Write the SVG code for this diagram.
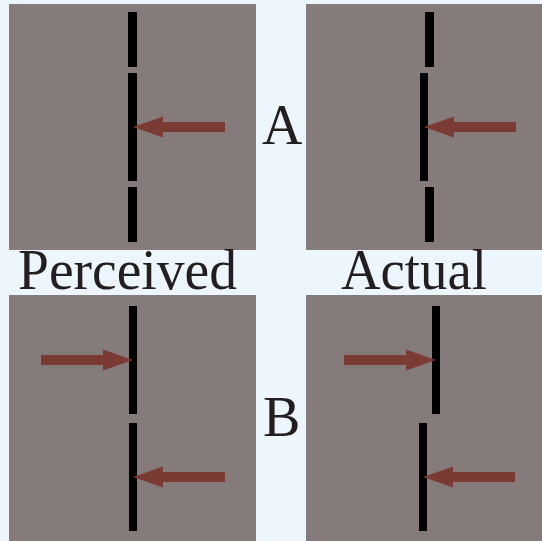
<svg xmlns="http://www.w3.org/2000/svg" width="542" height="541" viewBox="0 0 542 541">
<style>
.panel{fill:#857b7b}
.bar{fill:#000}
.arrow{fill:#7b3b35}
.lbl{font-family:"Liberation Serif","Times New Roman",serif;font-size:56px;fill:#231f20}
</style>
<defs>
<polygon id="arrowL" class="arrow" points="0,0 30,-10.5 30,-5 92,-5 92,5 30,5 30,10.5"/>
</defs>
<rect width="542" height="541" fill="#eef6fd"/>
<g id="panel-a-perceived">
<rect class="panel" x="9" y="4" width="247" height="246"/>
<rect class="bar" x="128" y="12" width="9" height="55"/>
<rect class="bar" x="128" y="73" width="9" height="108"/>
<rect class="bar" x="128" y="187" width="9" height="55"/>
<use href="#arrowL" x="133" y="127"/>
</g>
<g id="panel-a-actual">
<rect class="panel" x="306" y="4" width="236" height="246"/>
<rect class="bar" x="425" y="12" width="9" height="55"/>
<rect class="bar" x="420" y="73" width="8" height="108"/>
<rect class="bar" x="425" y="187" width="9" height="55"/>
<use href="#arrowL" x="424" y="127"/>
</g>
<g id="panel-b-perceived">
<rect class="panel" x="9" y="295" width="247" height="246"/>
<rect class="bar" x="129" y="306" width="8" height="108"/>
<rect class="bar" x="129" y="423" width="8" height="108"/>
<use href="#arrowL" transform="translate(133,360) scale(-1,1)"/>
<use href="#arrowL" x="133" y="477"/>
</g>
<g id="panel-b-actual">
<rect class="panel" x="306" y="295" width="236" height="246"/>
<rect class="bar" x="432" y="306" width="8" height="108"/>
<rect class="bar" x="419" y="423" width="8" height="108"/>
<use href="#arrowL" transform="translate(436,360) scale(-1,1)"/>
<use href="#arrowL" x="423" y="477"/>
</g>
<g id="labels">
<text class="lbl" x="18" y="289" textLength="219" lengthAdjust="spacingAndGlyphs">Perceived</text>
<text class="lbl" x="341" y="289" textLength="146" lengthAdjust="spacingAndGlyphs">Actual</text>
<text class="lbl" x="262" y="144">A</text>
<text class="lbl" x="263" y="436">B</text>
</g>
</svg>
